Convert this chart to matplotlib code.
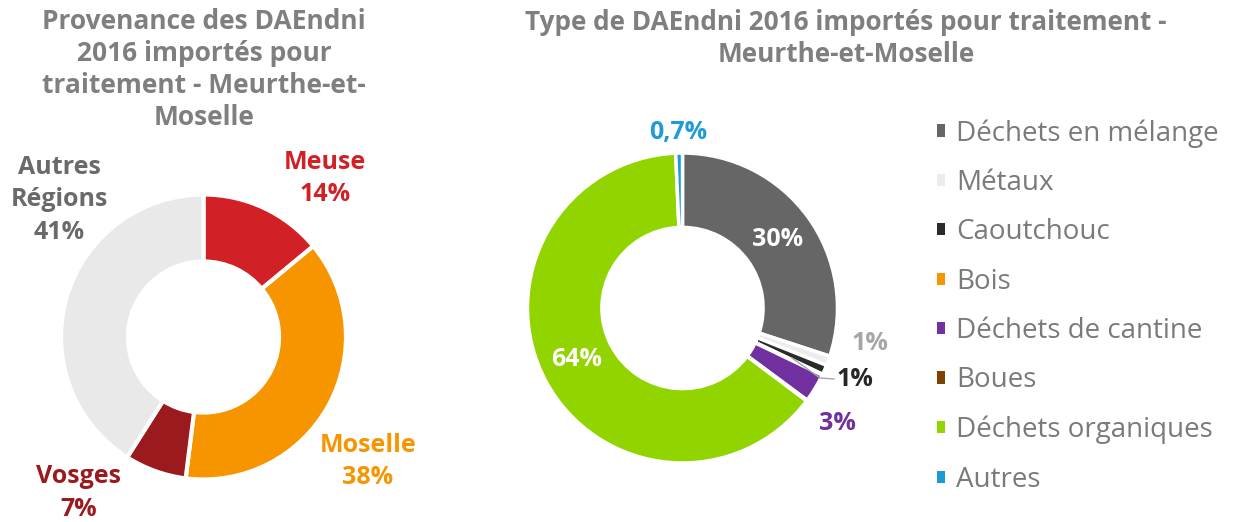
import matplotlib.pyplot as plt

plt.rcParams['font.family'] = ['Open Sans', 'DejaVu Sans']

# Provenance of imported waste (left donut)
regions = ['Meuse', 'Moselle', 'Vosges', 'Autres\nRégions']
region_share = [14, 38, 7, 41]
region_colors = ['#d12127', '#f79500', '#9a1a1d', '#e9e9e9']
region_text_colors = ['#d12127', '#f79500', '#9a1a1d', '#6a6a6a']

# Waste type (right donut)
waste_types = ['Déchets en mélange', 'Métaux', 'Caoutchouc', 'Bois',
               'Déchets de cantine', 'Boues', 'Déchets organiques', 'Autres']
waste_share = [30, 1, 1, 0.1, 3, 0.1, 64, 0.7]
waste_colors = ['#666666', '#ececec', '#2b2b2b', '#f79500',
                '#7030a0', '#7f4200', '#92d400', '#1a9ad6']

W, H = 1237, 522


def pct(v):
    return f'{v:g}%'.replace('.', ',')


fig = plt.figure(figsize=(W / 100, H / 100), dpi=100)
ax = fig.add_axes([0, 0, 1, 1])
ax.set_xlim(0, W)
ax.set_ylim(0, H)
ax.set_aspect('equal')
ax.axis('off')

# left donut
c1, r1 = (203.5, H - 337), 142.5
ax.pie(region_share, colors=region_colors, startangle=90, counterclock=False,
       center=c1, radius=r1, frame=True,
       wedgeprops=dict(width=r1 * 0.47, edgecolor='white', linewidth=3))

left_label_pos = [(325, 178.5), (368, 461.5), (79, 493), (59, 200)]
for name, v, col, (x, y) in zip(regions, region_share, region_text_colors, left_label_pos):
    ax.text(x, H - y, f'{name}\n{pct(v)}', color=col, fontsize=18,
            fontweight='bold', ha='center', va='center', linespacing=1.4)

ax.text(204, H - 69.5, 'Provenance des DAEndni\n2016 importés pour\ntraitement - Meurthe-et-\nMoselle',
        color='#7f7f7f', fontsize=19, fontweight='bold', ha='center', va='center',
        linespacing=1.24)

# right donut
c2, r2 = (682.5, H - 308), 155
wedges, _ = ax.pie(waste_share, colors=waste_colors, startangle=90, counterclock=False,
                   center=c2, radius=r2, frame=True,
                   wedgeprops=dict(width=r2 * 0.48, edgecolor='white', linewidth=2.5))

# value labels (index, position, colour)
value_labels = [(0, (778, 240), 'white'),
                (6, (577, 360), 'white'),
                (7, (678, 133), '#1f9bd7'),
                (1, (870, 343), '#a6a6a6'),
                (2, (855, 380), '#262626'),
                (4, (837, 423), '#7030a0')]
for i, (x, y), col in value_labels:
    ax.text(x, H - y, pct(waste_share[i]), color=col, fontsize=18,
            fontweight='bold', ha='center', va='center')

# leader line for Caoutchouc
ax.plot([792, 820, 834], [H - 358, H - 378, H - 379], color='#a6a6a6', lw=1)

ax.text(846, H - 38.5, 'Type de DAEndni 2016 importés pour traitement -\nMeurthe-et-Moselle',
        color='#7f7f7f', fontsize=18.8, fontweight='bold', ha='center', va='center',
        linespacing=1.27)

leg = ax.legend(wedges, waste_types, loc='upper left', bbox_to_anchor=(937, H - 119),
                bbox_transform=ax.transData, frameon=False, fontsize=20,
                handlelength=0.3, handleheight=0.3, handletextpad=0.4,
                labelspacing=0.77, borderpad=0, borderaxespad=0)
for t in leg.get_texts():
    t.set_color('#7a7a7a')
for h in leg.legend_handles:
    h.set_linewidth(0)

ax.set_xlim(0, W)
ax.set_ylim(0, H)
fig.savefig('out.png', dpi=100)
